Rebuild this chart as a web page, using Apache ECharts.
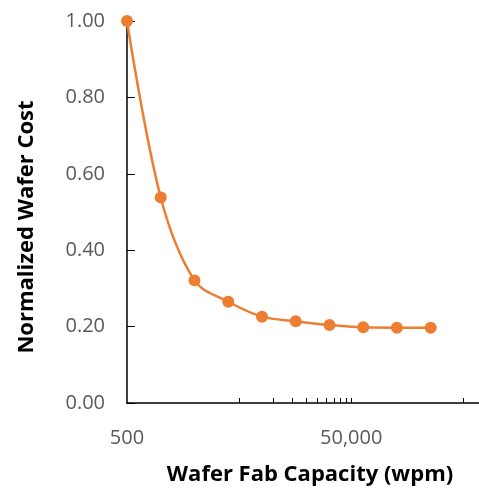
<!DOCTYPE html>
<html>
<head>
<meta charset="utf-8">
<script src="https://cdn.jsdelivr.net/npm/echarts@6/dist/echarts.min.js"></script>
<style>
  html, body {margin: 0; padding: 0; background: #fff;}
  #chart {width: 479px; height: 491px;}
</style>
</head>
<body>
<div id="chart"></div>
<script>
// wafer fab capacity (wpm), log spaced
var capacity = [500, 1000, 2000, 4000, 8000, 16000, 32000, 64000, 128000, 256000];
var cost = [1.00, 0.538, 0.321, 0.265, 0.226, 0.214, 0.204, 0.198, 0.197, 0.197];

var xLabelValues = [500, 50000];
var xTickValues = [5000, 10000, 15000, 20000, 25000, 30000, 35000, 40000, 45000, 50000, 500000];
var base = 500;

function toLog (v) {
    return Math.log10(v / base);
};
function xfmt (u) {
    return Math.round(base * Math.pow(10, u)).toLocaleString('en-US');
};

var font = '"Open Sans", sans-serif';
var points = capacity.map(function(c, i){return [toLog(c), cost[i]];});

var chart = echarts.init(document.getElementById('chart'));
var opt = {
    animation: false,
    grid: {left: 127, right: 0, top: 21, bottom: 86},
    xAxis: {
        type: 'value', min: 0, max: 3.14,
        name: 'Wafer Fab Capacity (wpm)', nameLocation: 'middle', nameGap: 61,
        nameTextStyle: {fontFamily: font, fontSize: 22, fontWeight: 'bold', color: '#000', padding: [0, 0, 0, 14]},
        axisLine: {show: true, lineStyle: {color: '#000', width: 1.5}},
        axisTick: {show: true, inside: true, length: 5, lineStyle: {color: '#000'},
            customValues: xTickValues.map(toLog)},
        axisLabel: {customValues: xLabelValues.map(toLog), formatter: xfmt, margin: 25,
            fontFamily: font, fontSize: 20, color: '#595959'},
        splitLine: {show: false}
    },
    yAxis: {
        type: 'value', min: 0, max: 1, interval: 0.2,
        name: 'Normalized Wafer Cost', nameLocation: 'middle', nameGap: 89,
        nameTextStyle: {fontFamily: font, fontSize: 22, fontWeight: 'bold', color: '#000', padding: [0, 30, 0, 0]},
        axisLine: {show: true, lineStyle: {color: '#000', width: 1.5}},
        axisTick: {show: true, inside: true, length: 8, lineStyle: {color: '#000'}},
        axisLabel: {formatter: function(v){return v.toFixed(2);}, margin: 22,
            fontFamily: font, fontSize: 20, color: '#595959'},
        splitLine: {show: false}
    },
    series: [{
        type: 'line',
        data: points,
        smooth: 0.35,
        symbol: 'circle',
        symbolSize: 12,
        lineStyle: {color: '#ED7D31', width: 2.5},
        itemStyle: {color: '#ED7D31'}
    }]
};
chart.setOption(opt);
</script>
</body>
</html>
